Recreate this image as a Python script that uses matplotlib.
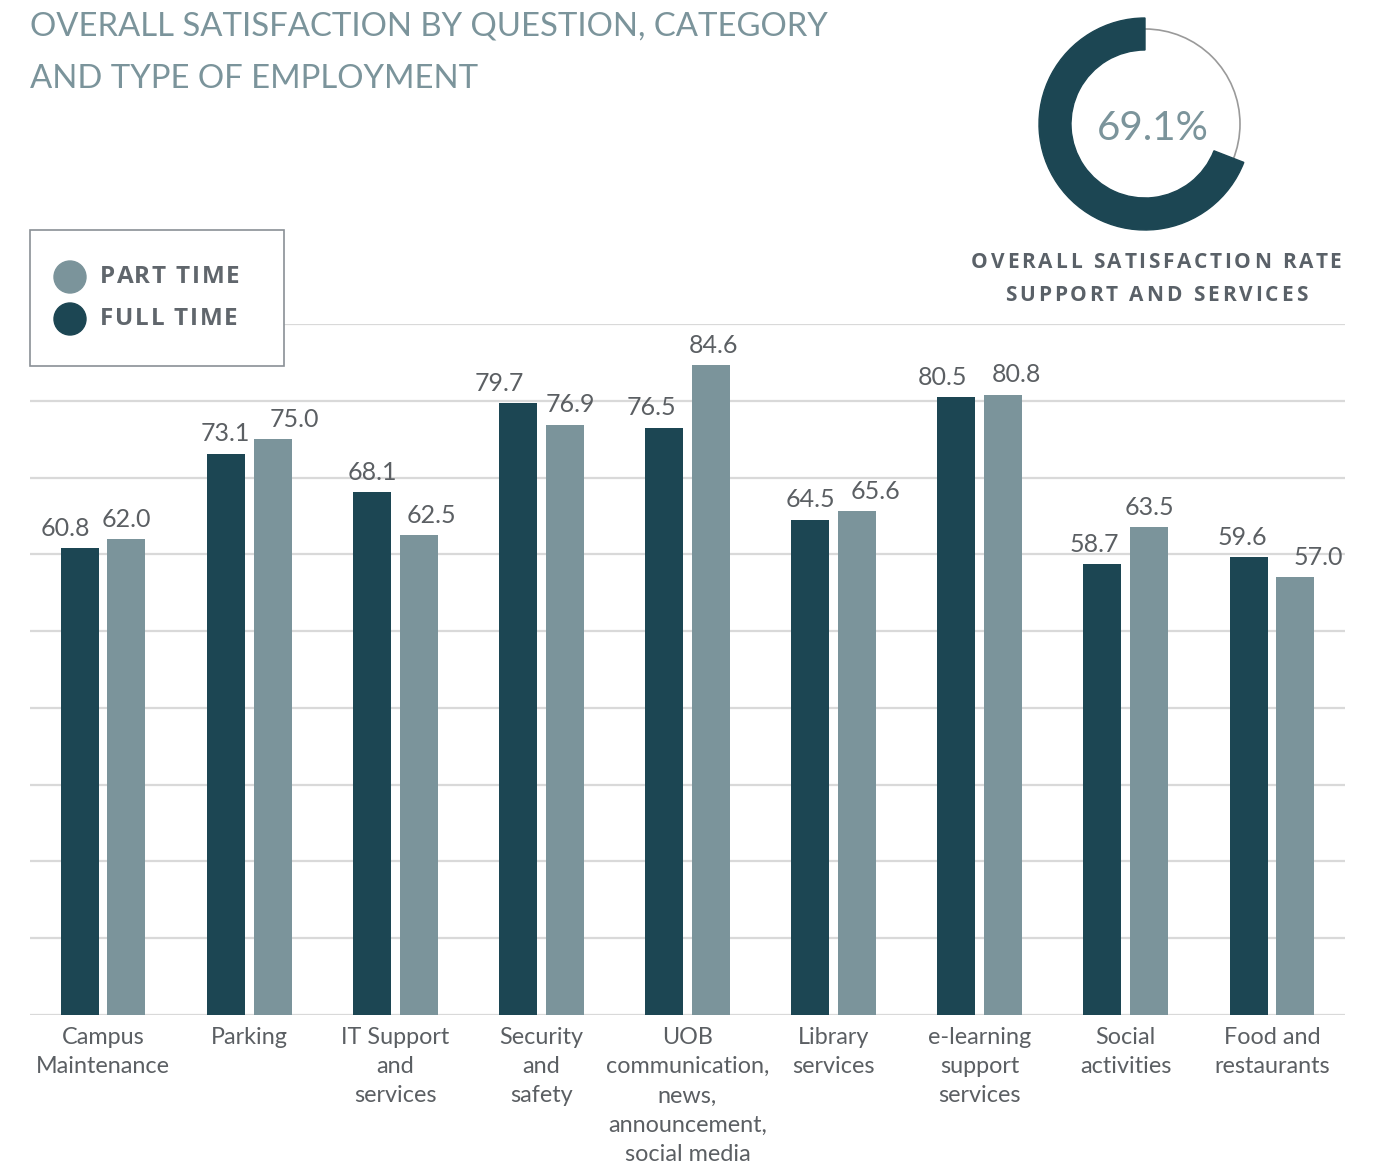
import numpy as np
import matplotlib
matplotlib.use("Agg")
import matplotlib.pyplot as plt
from matplotlib.patches import Rectangle, Circle, Wedge

W, H = 1377, 1169

categories = ["Campus\nMaintenance", "Parking", "IT Support\nand\nservices",
              "Security\nand\nsafety",
              "UOB\ncommunication,\nnews,\nannouncement,\nsocial media",
              "Library\nservices", "e-learning\nsupport\nservices",
              "Social\nactivities", "Food and\nrestaurants"]
full_time = [60.8, 73.1, 68.1, 79.7, 76.5, 64.5, 80.5, 58.7, 59.6]
part_time = [62.0, 75.0, 62.5, 76.9, 84.6, 65.6, 80.8, 63.5, 57.0]
overall_rate = 69.1

# label nudges (px) to mimic the original auto placement
full_dx = [-14, 0, 0, -19, -13, 0, -14, -8, -6]
part_dx = [0, 22, 13, 6, 3, 19, 13, 0, 23]

dark = "#1c4653"
light = "#7b949b"
txt = "#5b5f63"
grid_c = "#d9d9d9"

plt.rcParams['font.family'] = ['Lato', 'DejaVu Sans']

fig = plt.figure(figsize=(W / 100, H / 100), dpi=100)
fig.patch.set_facecolor("white")
renderer = fig.canvas.get_renderer()


def tracked_text(x_px, y_px, s, track, ha='left', **kw):
    """draw letter-spaced text, position in pixels from top-left"""
    def w(u):
        t = fig.text(0, 0, u, **kw)
        ww = t.get_window_extent(renderer).width
        t.remove()
        return ww
    bar = w("|")
    offs = [w(s[:i] + "|") - bar if i else 0 for i in range(len(s))]
    total = w(s) + track * (len(s) - 1)
    x0 = x_px - total / 2 if ha == 'center' else x_px
    for i, ch in enumerate(s):
        if ch == ' ':
            continue
        fig.text((x0 + offs[i] + i * track) / W, 1 - y_px / H, ch,
                 ha='left', va='center', **kw)


ax = fig.add_axes([30 / W, 1 - 1015 / H, 1315 / W, 691 / H])
x = np.arange(len(categories))
bw = 0.26
ax.bar(x - 0.16, full_time, bw, color=dark, zorder=3)
ax.bar(x + 0.16, part_time, bw, color=light, zorder=3)
ax.set_xlim(-0.5, len(categories) - 0.5)
ax.set_ylim(0, 90)
ax.set_yticks(np.arange(0, 91, 10))
ax.yaxis.grid(True, color=grid_c, lw=1.6, zorder=0)
ax.set_axisbelow(True)
for s in ax.spines.values():
    s.set_visible(False)
ax.tick_params(axis='y', left=False, labelleft=False)
ax.tick_params(axis='x', bottom=False, pad=5)
ax.set_xticks(x)
ax.set_xticklabels(categories, fontsize=16.8, color=txt, linespacing=1.49, va='top')

for i in range(len(categories)):
    ax.annotate(f"{full_time[i]:.1f}", (x[i] - 0.16, full_time[i]),
                xytext=(full_dx[i] * 0.72, 6), textcoords='offset points',
                ha='center', va='bottom', fontsize=18, color=txt, annotation_clip=False)
    t = ax.annotate(f"{part_time[i]:.1f}", (x[i] + 0.16, part_time[i]),
                    xytext=(part_dx[i] * 0.72, 6), textcoords='offset points',
                    ha='center', va='bottom', fontsize=18, color=txt)
    t.set_clip_on(True)

# title
fig.text(30 / W, 1 - 27 / H, "OVERALL SATISFACTION BY QUESTION, CATEGORY",
         fontsize=23.7, color="#7b949b", ha='left', va='center')
fig.text(30 / W, 1 - 79 / H, "AND TYPE OF EMPLOYMENT",
         fontsize=23.7, color="#7b949b", ha='left', va='center')

# legend box
fig.add_artist(Rectangle((30 / W, 1 - 366 / H), 254 / W, 136 / H,
                         transform=fig.transFigure, facecolor='white',
                         edgecolor='#8a9096', lw=1.2, zorder=5))
lax = fig.add_axes([30 / W, 1 - 366 / H, 254 / W, 136 / H], zorder=6)
lax.set_xlim(0, 254)
lax.set_ylim(136, 0)
lax.set_aspect('equal')
lax.axis('off')
for yy, col in [(47, light), (89, dark)]:
    lax.add_patch(Circle((40, yy), 16, color=col))
leg_kw = dict(fontsize=17.5, fontweight='bold', color="#60666c",
              family=['Open Sans', 'DejaVu Sans'], zorder=7)
tracked_text(100, 277, "PART TIME", 1.8, **leg_kw)
tracked_text(100, 319, "FULL TIME", 1.8, **leg_kw)

# donut
dax = fig.add_axes([(1145 - 120) / W, 1 - (124 + 120) / H, 240 / W, 240 / H])
dax.set_xlim(-1.2, 1.2)
dax.set_ylim(-1.2, 1.2)
dax.set_aspect('equal')
dax.axis('off')
dax.add_patch(Circle((0, 0), 0.95, fill=False, edgecolor='#9a9a9a', lw=1.2))
dax.add_patch(Wedge((0, 0), 1.06, 90, 90 + 360 * overall_rate / 100, width=0.32,
                    color=dark))
dax.text(0.08, -0.04, f"{overall_rate:.1f}%", fontsize=29, color=light,
         ha='center', va='center')

cap_kw = dict(fontsize=15, fontweight='bold', color="#5a6168",
              family=['Open Sans', 'DejaVu Sans'])
tracked_text(1156, 262, "OVERALL SATISFACTION RATE", 2.9, ha='center', **cap_kw)
tracked_text(1156, 295, "SUPPORT AND SERVICES", 2.9, ha='center', **cap_kw)

fig.savefig("out.png", dpi=100, facecolor='white')
